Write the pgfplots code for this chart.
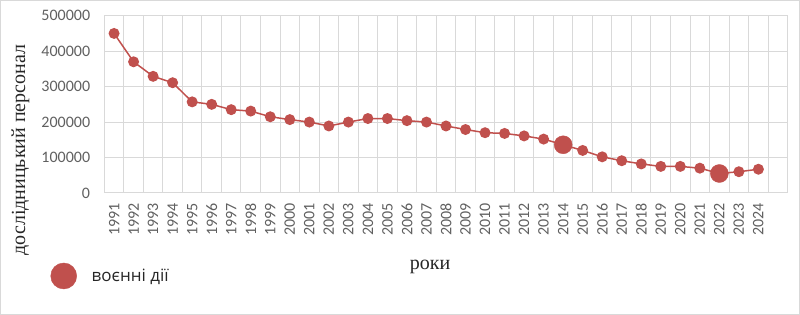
\documentclass[border=0pt]{standalone}
\usepackage{pgfplots}
\pgfplotsset{compat=1.18}
\usepackage{fontspec}
\setmainfont{Liberation Serif}
\newfontfamily\tickfont{Carlito}
\newfontfamily\legfont{Open Sans}
\definecolor{serred}{HTML}{C0504D}
\definecolor{gridgray}{HTML}{D9D9D9}
\definecolor{tickgray}{HTML}{606060}
\begin{document}
\begin{tikzpicture}
\useasboundingbox (0,0) rectangle (800pt,315pt);
\draw[gridgray, line width=1pt] (0.5pt,0.5pt) rectangle (799.5pt,314.5pt);
\begin{axis}[
  at={(104.3pt,122pt)}, anchor=south west, scale only axis,
  width=683.4pt, height=177.3pt,
  xmin=1990.5, xmax=2025.5, ymin=0, ymax=500000,
  xtick={1991,...,2024},
  minor xtick={1990.5,1991.5,...,2025.5},
  ytick={0,100000,200000,300000,400000,500000},
  scaled y ticks=false,
  /pgf/number format/.cd, fixed, 1000 sep={}, assume math mode=true, /pgfplots/.cd,
  ymajorgrids, xminorgrids, xmajorgrids=false,
  grid style={gridgray, line width=1pt},
  minor grid style={gridgray, line width=1pt},
  major tick length=0pt, minor tick length=0pt,
  axis line style={gridgray, line width=1pt},
  xticklabel style={rotate=90, anchor=east, inner xsep=10pt, font=\tickfont\fontsize{16}{16}\selectfont, text=tickgray},
  yticklabel style={anchor=east, inner xsep=14pt, font=\tickfont\fontsize{16}{16}\selectfont, text=tickgray},
  xlabel={роки},
  xlabel style={at={(axis description cs:0.4766,-0.4343)}, anchor=base, font=\fontsize{20}{22}\selectfont, text=black!85},
  ylabel={дослідницький персонал},
  ylabel style={at={(axis description cs:-0.116,0.2425)}, anchor=base, rotate=0, font=\fontsize{20}{22}\selectfont, text=black!85},
  legend style={draw=none, fill=none, at={(axis description cs:-0.079,-0.468)}, anchor=west,
    font=\legfont\fontsize{17}{17}\selectfont, text=black!85, inner sep=0pt},
  clip=false,
]
\addplot[color=serred, line width=1.5pt, mark=*, mark size=4.7pt, mark options={draw=none, fill=serred}, forget plot] coordinates {
(1991,450000) (1992,370000) (1993,329000) (1994,311000) (1995,257000)
(1996,250000) (1997,235000) (1998,231000) (1999,215000) (2000,207000)
(2001,200000) (2002,189000) (2003,200000) (2004,210000) (2005,210000)
(2006,204000) (2007,200000) (2008,189000) (2009,179000) (2010,170000)
(2011,168000) (2012,161000) (2013,152000) (2014,136000) (2015,120000)
(2016,102000) (2017,91000) (2018,82000) (2019,75000) (2020,75000)
(2021,70000) (2022,55000) (2023,60000) (2024,67000)
};
\addplot[color=serred, only marks, mark=*, mark size=9pt, mark options={draw=none, fill=serred},
  legend image code/.code={\fill[serred] (13pt,0pt) circle (13pt); \path[draw=none,fill=none] (0pt,-1pt) rectangle (39pt,1pt);}] coordinates {
(2014,136000) (2022,55000)
};
\addlegendentry{воєнні дії}
\end{axis}
\end{tikzpicture}
\end{document}
